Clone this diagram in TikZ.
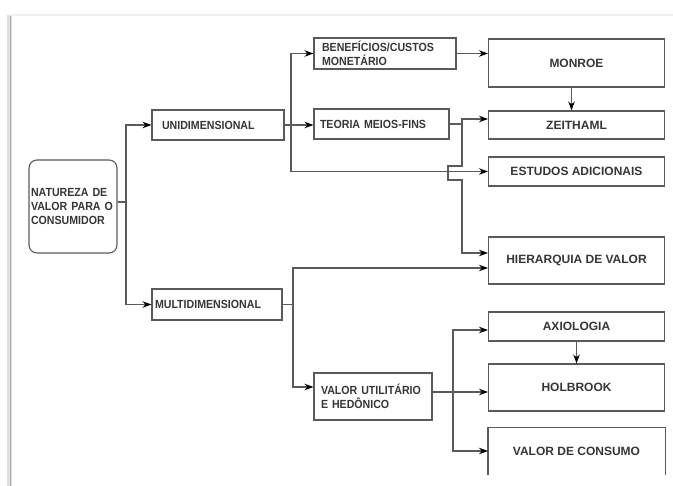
\documentclass[tikz,border=0pt]{standalone}
\usepackage{fontspec}
\setmainfont{Liberation Sans}
\newfontfamily\estreita{Liberation Sans}[FakeStretch=0.9]
\usetikzlibrary{arrows.meta}
\definecolor{linha}{HTML}{5A5A5A}
\definecolor{texto}{HTML}{363636}
\tikzset{
    caixa/.style={draw=linha, line width=1.1pt, inner sep=0pt, text=texto,
        align=left, font=\estreita\bfseries\fontsize{11.8}{14}\selectfont},
    caixadir/.style={draw=linha, line width=1.1pt, inner sep=0pt, text=texto,
        minimum width=176pt, font=\bfseries\fontsize{12}{14}\selectfont},
    ligacao/.style={draw=linha, line width=1.1pt},
    seta/.style={ligacao, -{Stealth[length=9pt, width=6.5pt, color=black]}}
}

\begin{document}
\begin{tikzpicture}[x=1pt, y=-1pt]
    \useasboundingbox (0, 0) rectangle (673, 486);

    \draw [gray!25, line width=5pt] (9, 15) -- (9, 486);
    \draw [gray!65, line width=1.5pt] (10.5, 15) -- (10.5, 486);
    \draw [gray!12, line width=2pt] (10, 15) -- (673, 15);

    \node [caixa, rounded corners=8pt, minimum width=88pt, minimum height=93pt,
        text width=84pt] (natureza) at (73, 206.5)
        {NATUREZA DE\\VALOR PARA O\\CONSUMIDOR};
    \node [caixa, minimum width=132pt, minimum height=30pt, text width=112pt]
        (uni) at (218, 125) {UNIDIMENSIONAL};
    \node [caixa, minimum width=130pt, minimum height=31pt, text width=124pt]
        (multi) at (217, 304.5) {MULTIDIMENSIONAL};
    \node [caixa, minimum width=142pt, minimum height=31pt, text width=126pt]
        (beneficios) at (385, 53.5) {BENEFÍCIOS/CUSTOS\\MONETÁRIO};
    \node [caixa, minimum width=135pt, minimum height=30pt, text width=123pt]
        (meiosfins) at (381.5, 124) {TEORIA MEIOS-FINS};
    \node [caixa, minimum width=118pt, minimum height=47pt, text width=104pt]
        (utilitario) at (373, 396.5) {VALOR UTILITÁRIO\\E HEDÔNICO};

    \node [caixadir, minimum height=48pt] (monroe) at (576.5, 63) {MONROE};
    \node [caixadir, minimum height=28pt] (zeithaml) at (576.5, 125) {ZEITHAML};
    \node [caixadir, minimum height=29pt] (estudos) at (576.5, 171.5)
        {ESTUDOS ADICIONAIS};
    \node [caixadir, minimum height=47pt] (hierarquia) at (576.5, 260.5)
        {HIERARQUIA DE VALOR};
    \node [caixadir, minimum height=29pt] (axiologia) at (576.5, 326.5)
        {AXIOLOGIA};
    \node [caixadir, minimum height=47pt] (holbrook) at (576.5, 387.5)
        {HOLBROOK};
    \node [caixadir, draw=none, minimum height=46pt] (consumo) at (576.5, 451)
        {VALOR DE CONSUMO};
    \draw [ligacao] (consumo.south west) -- (consumo.north west)
        -- (consumo.north east) -- (consumo.south east);

    \coordinate (j1) at (126, 202);
    \coordinate (j2) at (291, 125);
    \coordinate (j3) at (462, 124);
    \coordinate (j4) at (293, 304.5);
    \coordinate (j5) at (453, 392);

    \draw [ligacao] ([yshift=4.5pt]natureza.east) -- (j1);
    \foreach \alvo in {uni, multi}
        \draw [seta] (j1) |- (\alvo.west);

    \draw [seta] (uni.east) -- (uni.east -| meiosfins.west);
    \foreach \alvo in {beneficios, estudos}
        \draw [seta] (j2) |- (\alvo.west);

    \draw [seta] (beneficios.east) -- (beneficios.east -| monroe.west);
    \draw [seta] ([xshift=-5pt]monroe.south) -- ([xshift=-5pt]zeithaml.north);

    \draw [ligacao] (meiosfins.east) -- (j3);
    \draw [seta] (j3) |- ([yshift=6pt]zeithaml.west);
    \draw [seta] (j3) -- ++(0, 42) -- ++(-14, 0) -- ++(0, 14) -- ++(14, 0)
        |- ([yshift=7.5pt]hierarquia.west);

    \draw [ligacao] (multi.east) -- (j4);
    \draw [seta] (j4) |- ([yshift=-7.5pt]hierarquia.west);
    \draw [seta] (j4) |- ([yshift=9.5pt]utilitario.west);

    \draw [seta] ([yshift=4.5pt]utilitario.east) -- (j5 -| holbrook.west);
    \draw [seta] (j5) |- ([yshift=-3.5pt]axiologia.west);
    \draw [seta] (j5) |- (consumo.west);
    \draw [seta] (axiologia.south) -- (holbrook.north);
\end{tikzpicture}
\end{document}
